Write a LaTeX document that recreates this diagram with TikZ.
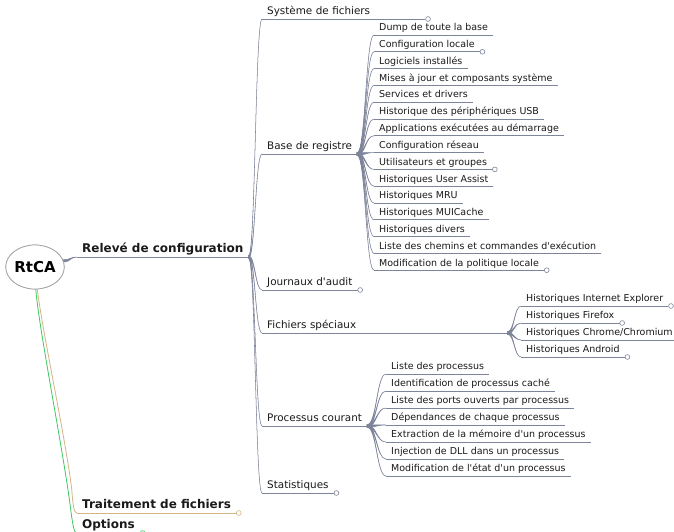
\documentclass[tikz,border=0pt]{standalone}
\usepackage{fontspec}
\setmainfont{DejaVu Sans}[Ligatures=TeXOff]
\usetikzlibrary{calc,shapes.geometric}

\definecolor{edgec}{HTML}{7E8499}
\definecolor{ink}{HTML}{1A1A1A}
\definecolor{tanc}{HTML}{D6B486}
\definecolor{greenc}{HTML}{3CC860}
\definecolor{rootc}{HTML}{A0A0A0}

\tikzset{
  txt/.style={anchor=south west, inner xsep=5pt, inner ysep=1.5pt, text depth=2.5pt, text=ink},
  lvlone/.style={txt, font=\bfseries\fontsize{12}{14}\selectfont},
  lvltwo/.style={txt, font=\fontsize{10.4}{12}\selectfont},
  lvlthree/.style={txt, font=\fontsize{9.5}{11}\selectfont},
  uline/.style={draw=#1, line width=0.8pt},
  uline/.default=edgec,
  foldmark/.style={draw=#1, fill=white, line width=0.6pt},
  foldmark/.default=edgec,
  rootnode/.style={ellipse, draw=rootc, fill=white, line width=0.7pt,
    minimum width=58pt, minimum height=44pt, inner sep=0pt,
    font=\bfseries\fontsize{15}{17}\selectfont, text=black},
  rootedge/.style={draw=#1, line width=0.8pt},
}

% tapered connector from a parent point to a child point
\newcommand\wedgeedge[3][edgec]{%
  \filldraw[draw=#1, fill=#1, line width=0.5pt]
    let \p1=(#2), \p2=(#3), \n1={0.5*(\x2-\x1)} in
    (\x1,\y1+1.2pt) .. controls (\x1+\n1,\y1+1.2pt) and (\x2-\n1,\y2) .. (\x2,\y2)
    .. controls (\x2-\n1,\y2) and (\x1+\n1,\y1-1.2pt) .. (\x1,\y1-1.2pt) -- cycle;}
% underline of a node
\newcommand\under[2][edgec]{\draw[uline=#1] (#2.south west) -- (#2.south east);}
% fold indicator at the end of the underline
\newcommand\fold[2][edgec]{\draw[foldmark=#1] ([xshift=2.6pt]#2.south east) circle (2.4pt);}

\begin{document}
\begin{tikzpicture}[x=1pt,y=-1pt]
\clip (0,0) rectangle (674,532);
\fill[white] (0,0) rectangle (674,532);

% root
\node[rootnode] (root) at (35,267) {RtCA};

% first level
\node[lvlone] (rel) at (77,257) {Relevé de configuration};
\node[lvlone] (trait) at (77,513) {Traitement de fichiers};
\node[lvlone] (opt) at (77,533) {Options};

% second level
\node[lvltwo, text width=153pt, align=left] (sys) at (262,19) {Système de fichiers};
\node[lvltwo] (base) at (262,154) {Base de registre};
\node[lvltwo] (journ) at (262,290) {Journaux d'audit};
\node[lvltwo, text width=235pt, align=left] (fich) at (262,333) {Fichiers spéciaux};
\node[lvltwo] (proc) at (262,426) {Processus courant};
\node[lvltwo] (stat) at (262,493) {Statistiques};

% registry items
\node[lvlthree] (b1) at (374,35.0) {Dump de toute la base};
\node[lvlthree] (b2) at (374,51.8) {Configuration locale};
\node[lvlthree] (b3) at (374,68.6) {Logiciels installés};
\node[lvlthree] (b4) at (374,85.4) {Mises à jour et composants système};
\node[lvlthree] (b5) at (374,102.2) {Services et drivers};
\node[lvlthree] (b6) at (374,119.0) {Historique des périphériques USB};
\node[lvlthree] (b7) at (374,135.8) {Applications exécutées au démarrage};
\node[lvlthree] (b8) at (374,152.6) {Configuration réseau};
\node[lvlthree] (b9) at (374,169.4) {Utilisateurs et groupes};
\node[lvlthree] (b10) at (374,186.2) {Historiques User Assist};
\node[lvlthree] (b11) at (374,203.0) {Historiques MRU};
\node[lvlthree] (b12) at (374,219.8) {Historiques MUICache};
\node[lvlthree] (b13) at (374,236.6) {Historiques divers};
\node[lvlthree] (b14) at (374,253.4) {Liste des chemins et commandes d'exécution};
\node[lvlthree] (b15) at (374,270.2) {Modification de la politique locale};

% special files
\node[lvlthree] (f1) at (521,306) {Historiques Internet Explorer};
\node[lvlthree] (f2) at (521,323) {Historiques Firefox};
\node[lvlthree] (f3) at (521,340) {Historiques Chrome/Chromium};
\node[lvlthree] (f4) at (521,357) {Historiques Android};

% running processes
\node[lvlthree] (p1) at (386,374) {Liste des processus};
\node[lvlthree] (p2) at (386,391) {Identification de processus caché};
\node[lvlthree] (p3) at (386,408) {Liste des ports ouverts par processus};
\node[lvlthree] (p4) at (386,425) {Dépendances de chaque processus};
\node[lvlthree] (p5) at (386,442) {Extraction de la mémoire d'un processus};
\node[lvlthree] (p6) at (386,459) {Injection de DLL dans un processus};
\node[lvlthree] (p7) at (386,476) {Modification de l'état d'un processus};

% connectors from the root: long slanted runs that turn into the underline
\coordinate (tbend) at (72,492);
\coordinate (obend) at (71,512);
\draw[rootedge=tanc] (root.-84) .. controls (42,330) and (67,445) .. (tbend)
  .. controls (73,506) and (74,513) .. (trait.south west);
\draw[rootedge=greenc] (root.-88) .. controls (39,330) and (65,460) .. (obend)
  .. controls (73,526) and (74,533) .. (opt.south west);

% connectors of the configuration branch
\wedgeedge{root.12}{rel.south west}
\foreach \c in {sys,base,journ,fich,proc,stat}
  {\wedgeedge{rel.south east}{\c.south west}}
\foreach \c in {b1,b2,b3,b4,b5,b6,b7,b8,b9,b10,b11,b12,b13,b14,b15}
  {\wedgeedge{base.south east}{\c.south west}}
\foreach \c in {f1,f2,f3,f4}
  {\wedgeedge{fich.south east}{\c.south west}}
\foreach \c in {p1,p2,p3,p4,p5,p6,p7}
  {\wedgeedge{proc.south east}{\c.south west}}

% underlines
\foreach \c in {rel,sys,base,journ,fich,proc,stat,
  b1,b2,b3,b4,b5,b6,b7,b8,b9,b10,b11,b12,b13,b14,b15,
  f1,f2,f3,f4,p1,p2,p3,p4,p5,p6,p7}
  {\under{\c}}
\under[tanc]{trait}
\under[greenc]{opt}

% fold indicators
\foreach \c in {sys,journ,stat,b2,b9,b15,f1,f2,f3,f4}
  {\fold{\c}}
\fold[tanc]{trait}
\fold[greenc]{opt}

% root drawn last so the edges tuck under it
\node[rootnode] at (root) {RtCA};
\end{tikzpicture}
\end{document}
